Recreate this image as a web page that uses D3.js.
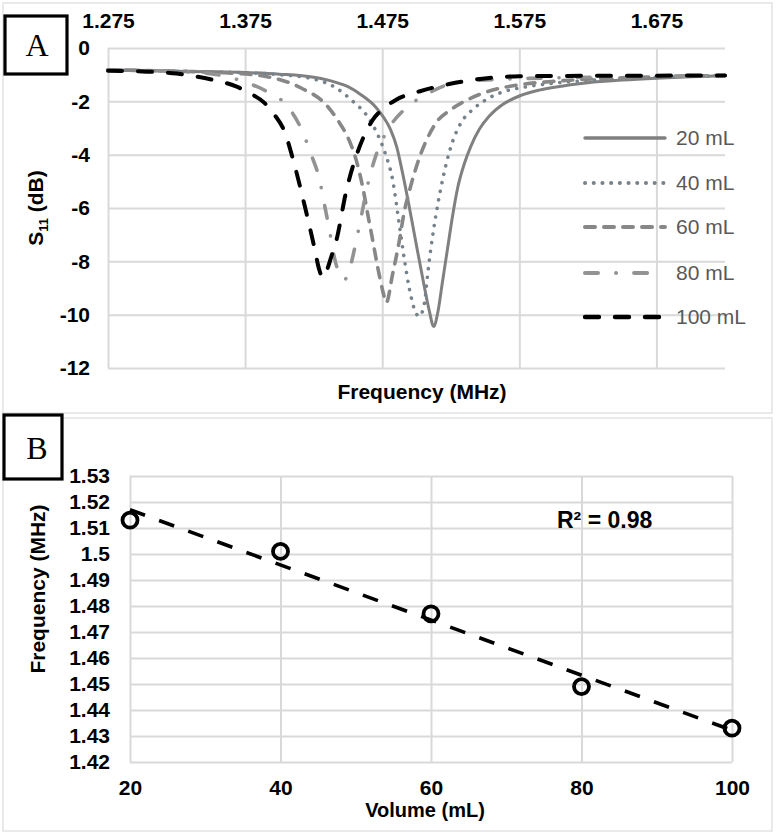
<!DOCTYPE html>
<html>
<head>
<meta charset="utf-8">
<script src="https://cdn.jsdelivr.net/npm/d3@7"></script>
<style>
  html, body { margin: 0; padding: 0; background: #fff; }
  svg { display: block; }
  text { font-family: "Liberation Sans", Arial, sans-serif; }
</style>
</head>
<body>
<svg id="chart" width="776" height="834"></svg>
<script>
// ---------------- DATA ----------------
// Panel A: S11 (dB) vs frequency (MHz), one array of [freq, dB] per volume
const seriesNames = ["20 mL", "40 mL", "60 mL", "80 mL", "100 mL"];

const s20 = [
  [1.275,-0.82],[1.300,-0.84],[1.325,-0.87],[1.350,-0.89],[1.375,-0.92],[1.400,-0.98],
  [1.425,-1.10],[1.440,-1.27],[1.450,-1.45],[1.460,-1.77],[1.470,-2.2],[1.476,-2.6],
  [1.481,-3.05],[1.4855,-3.7],[1.4899,-4.7],[1.4947,-5.95],[1.4996,-7.3],[1.5044,-8.6],
  [1.5093,-9.85],[1.5125,-10.44],[1.5156,-9.9],[1.5190,-8.75],[1.5227,-7.5],[1.5263,-6.3],
  [1.5300,-5.25],[1.5348,-4.35],[1.5397,-3.68],[1.5458,-3.05],[1.5531,-2.55],[1.5628,-2.12],
  [1.5750,-1.8],[1.5896,-1.58],[1.6018,-1.46],[1.625,-1.3],[1.650,-1.2],[1.675,-1.13],
  [1.700,-1.08],[1.725,-1.04]
];
const s40 = [
  [1.275,-0.82],[1.325,-0.87],[1.375,-0.93],[1.400,-1.0],[1.4220,-1.13],[1.4414,-1.5],
  [1.4536,-2.0],[1.4633,-2.5],[1.4706,-3.13],[1.4767,-3.88],[1.4828,-5.0],[1.4874,-6.6],
  [1.4911,-7.9],[1.4947,-9.0],[1.4996,-9.94],[1.5020,-10.06],[1.5057,-9.6],[1.5081,-8.5],
  [1.5105,-7.5],[1.5142,-6.25],[1.5178,-5.25],[1.5215,-4.38],[1.5264,-3.5],[1.5324,-2.81],
  [1.5409,-2.31],[1.5507,-1.94],[1.5628,-1.65],[1.5774,-1.48],[1.6018,-1.31],[1.625,-1.22],
  [1.650,-1.15],[1.675,-1.1],[1.700,-1.06],[1.725,-1.03]
];
const s60 = [
  [1.275,-0.82],[1.325,-0.87],[1.360,-0.93],[1.3891,-1.06],[1.4159,-1.5],[1.4341,-2.13],
  [1.4439,-2.81],[1.4499,-3.35],[1.4560,-4.2],[1.4609,-5.25],[1.4645,-6.25],[1.4682,-7.25],
  [1.4718,-8.25],[1.4755,-9.13],[1.4779,-9.55],[1.4825,-8.5],[1.4874,-7.25],[1.4911,-6.13],
  [1.4947,-5.38],[1.5020,-4.13],[1.5069,-3.5],[1.5142,-2.81],[1.5251,-2.31],[1.5397,-1.88],
  [1.5568,-1.56],[1.575,-1.38],[1.600,-1.25],[1.625,-1.17],[1.650,-1.12],[1.675,-1.08],
  [1.700,-1.05],[1.725,-1.03]
];
const s80 = [
  [1.275,-0.82],[1.325,-0.88],[1.355,-1.0],[1.3733,-1.25],[1.3915,-1.65],[1.4061,-2.19],
  [1.4159,-3.03],[1.4232,-4.0],[1.4293,-4.94],[1.4329,-5.88],[1.4366,-6.85],[1.4402,-7.88],
  [1.4440,-8.5],[1.4470,-8.7],[1.4500,-8.5],[1.4536,-7.81],[1.4580,-6.75],[1.4653,-4.94],
  [1.4706,-4.0],[1.4799,-3.0],[1.4911,-2.31],[1.5069,-1.75],[1.5307,-1.28],[1.5628,-1.17],
  [1.600,-1.12],[1.650,-1.08],[1.725,-1.03]
];
const s100 = [
  [1.275,-0.85],[1.300,-0.88],[1.325,-0.96],[1.352,-1.2],[1.3684,-1.44],[1.3782,-1.69],
  [1.3891,-2.06],[1.3964,-2.5],[1.4037,-3.13],[1.4110,-4.38],[1.4183,-5.88],[1.4256,-7.5],
  [1.4290,-8.3],[1.4315,-8.6],[1.4345,-8.35],[1.4380,-7.8],[1.4414,-7.25],[1.4487,-5.38],
  [1.4572,-3.88],[1.4633,-3.13],[1.4682,-2.69],[1.4779,-2.19],[1.4852,-1.94],[1.5020,-1.63],
  [1.5239,-1.35],[1.5482,-1.15],[1.575,-1.06],[1.600,-1.05],[1.650,-1.04],[1.725,-1.03]
];
const freqTicksA = [1.275, 1.375, 1.475, 1.575, 1.675];
const dbTicksA = [0, -2, -4, -6, -8, -10, -12];

// Panel B: resonant frequency vs volume
const volumes = [20, 40, 60, 80, 100];
const resFreq = [1.513, 1.501, 1.477, 1.449, 1.433];
const volTicksB = [20, 40, 60, 80, 100];
const freqTicksB = [1.42, 1.43, 1.44, 1.45, 1.46, 1.47, 1.48, 1.49, 1.50, 1.51, 1.52, 1.53];
const r2Label = "R² = 0.98";

// ---------------- STYLES ----------------
const seriesData = [s20, s40, s60, s80, s100];
const styles = [
  { color: "#808080", width: 3,   dash: null,            cap: "round" },
  { color: "#76838a", width: 3.6, dash: "0.1 8.6",       cap: "round" },
  { color: "#878787", width: 3.6, dash: "10 9",          cap: "round" },
  { color: "#939393", width: 3.6, dash: "13 18 0.1 18",  cap: "round" },
  { color: "#000000", width: 4,   dash: "14 16",         cap: "round" }
];
const gridColor = "#d9d9d9";
const tickFont = "bold 21px 'Liberation Sans', Arial, sans-serif";

const svg = d3.select("#chart");

// Panel borders
svg.append("rect").attr("x", 3).attr("y", 3).attr("width", 769).attr("height", 410)
  .attr("fill", "#fff").attr("stroke", "#e3e3e3").attr("stroke-width", 1.5);
svg.append("rect").attr("x", 3).attr("y", 418).attr("width", 769).attr("height", 413)
  .attr("fill", "#fff").attr("stroke", "#e3e3e3").attr("stroke-width", 1.5);

// ================= PANEL A =================
const A = { left: 108, right: 725, top: 48, bottom: 368 };
const xA = d3.scaleLinear().domain([1.275, 1.725]).range([A.left, A.right]);
const yA = d3.scaleLinear().domain([-12, 0]).range([A.bottom, A.top]);

const gA = svg.append("g");

const axTop = gA.append("g").attr("transform", `translate(0,${A.top})`)
  .call(d3.axisTop(xA).tickValues(freqTicksA).tickFormat(d3.format(".3f"))
    .tickSizeInner(-(A.bottom - A.top)).tickSizeOuter(0).tickPadding(20));
const axLeft = gA.append("g").attr("transform", `translate(${A.left},0)`)
  .call(d3.axisLeft(yA).tickValues(dbTicksA).tickFormat(d => String(d))
    .tickSizeInner(-(A.right - A.left)).tickSizeOuter(0).tickPadding(18));

[axTop, axLeft].forEach(ax => {
  ax.select(".domain").remove();
  ax.selectAll(".tick line").attr("stroke", gridColor).attr("stroke-width", 2);
  ax.selectAll(".tick text").attr("fill", "#000").style("font", tickFont);
});

const lineA = d3.line().x(d => xA(d[0])).y(d => yA(d[1])).curve(d3.curveMonotoneX);
seriesData.forEach((s, i) => {
  const st = styles[i];
  gA.append("path").datum(s)
    .attr("d", lineA)
    .attr("fill", "none")
    .attr("stroke", st.color)
    .attr("stroke-width", st.width)
    .attr("stroke-linecap", st.cap)
    .attr("stroke-linejoin", "round")
    .attr("stroke-dasharray", st.dash);
});

// legend
const legY = [138, 183, 227, 273, 317];
const legG = gA.append("g");
seriesNames.forEach((n, i) => {
  const st = styles[i];
  legG.append("line").attr("x1", 585).attr("x2", 665).attr("y1", legY[i]).attr("y2", legY[i])
    .attr("stroke", st.color).attr("stroke-width", st.width + 0.4)
    .attr("stroke-linecap", st.cap).attr("stroke-dasharray", st.dash);
  legG.append("text").attr("x", 676).attr("y", legY[i]).attr("dy", "0.35em")
    .attr("fill", "#595959").style("font", "21px 'Liberation Sans', Arial, sans-serif")
    .text(n);
});

// axis titles
gA.append("text").attr("x", 422).attr("y", 399).attr("text-anchor", "middle")
  .style("font", tickFont).text("Frequency (MHz)");
const s11 = gA.append("text").attr("transform", "translate(43,208) rotate(-90)")
  .attr("text-anchor", "middle").style("font", tickFont);
s11.append("tspan").text("S");
s11.append("tspan").attr("font-size", "13px").attr("dy", "5").text("11");
s11.append("tspan").attr("dy", "-5").text(" (dB)");

// label box A
svg.append("rect").attr("x", 5).attr("y", 16).attr("width", 62).attr("height", 58)
  .attr("fill", "#fff").attr("stroke", "#000").attr("stroke-width", 3.2);
svg.append("text").attr("x", 37).attr("y", 56).attr("text-anchor", "middle")
  .style("font", "32px 'Liberation Serif', 'Times New Roman', serif").text("A");

// ================= PANEL B =================
const B = { left: 130, right: 732, top: 476, bottom: 762 };
const xB = d3.scaleLinear().domain([20, 100]).range([B.left, B.right]);
const yB = d3.scaleLinear().domain([1.42, 1.53]).range([B.bottom, B.top]);
const gB = svg.append("g");

const axB = gB.append("g").attr("transform", `translate(0,${B.bottom})`)
  .call(d3.axisBottom(xB).tickValues(volTicksB).tickFormat(d => String(d))
    .tickSizeInner(-(B.bottom - B.top)).tickSizeOuter(0).tickPadding(18));
const ayB = gB.append("g").attr("transform", `translate(${B.left},0)`)
  .call(d3.axisLeft(yB).tickValues(freqTicksB).tickFormat(d => String(parseFloat(d.toFixed(2))))
    .tickSizeInner(-(B.right - B.left)).tickSizeOuter(0).tickPadding(20));
[axB, ayB].forEach(ax => {
  ax.select(".domain").remove();
  ax.selectAll(".tick line").attr("stroke", gridColor).attr("stroke-width", 2);
  ax.selectAll(".tick text").attr("fill", "#000").style("font", tickFont);
});

// linear trendline (least squares of the data)
const mx = d3.mean(volumes), my = d3.mean(resFreq);
const slope = d3.sum(volumes, (v, i) => (v - mx) * (resFreq[i] - my)) / d3.sum(volumes, v => (v - mx) ** 2);
const icpt = my - slope * mx;
const xr = d3.extent(volumes);
gB.append("line")
  .attr("x1", xB(xr[0])).attr("y1", yB(icpt + slope * xr[0]))
  .attr("x2", xB(xr[1])).attr("y2", yB(icpt + slope * xr[1]))
  .attr("stroke", "#000").attr("stroke-width", 3.6).attr("stroke-dasharray", "16 15");

gB.selectAll("circle.pt").data(volumes).enter().append("circle")
  .attr("class", "pt")
  .attr("cx", d => xB(d)).attr("cy", (d, i) => yB(resFreq[i]))
  .attr("r", 7.5).attr("fill", "none").attr("stroke", "#000").attr("stroke-width", 3.8);

gB.append("text").attr("x", 557).attr("y", 528)
  .style("font", "bold 23px 'Liberation Sans', Arial, sans-serif").text(r2Label);

gB.append("text").attr("x", 425).attr("y", 817).attr("text-anchor", "middle")
  .style("font", "bold 20px 'Liberation Sans', Arial, sans-serif").text("Volume (mL)");
gB.append("text").attr("transform", "translate(45,589) rotate(-90)").attr("text-anchor", "middle")
  .style("font", tickFont).text("Frequency (MHz)");

// label box B
svg.append("rect").attr("x", 4).attr("y", 415).attr("width", 58).attr("height", 64)
  .attr("fill", "#fff").attr("stroke", "#000").attr("stroke-width", 3.2);
svg.append("text").attr("x", 37).attr("y", 459).attr("text-anchor", "middle")
  .style("font", "32px 'Liberation Serif', 'Times New Roman', serif").text("B");
</script>
</body>
</html>
